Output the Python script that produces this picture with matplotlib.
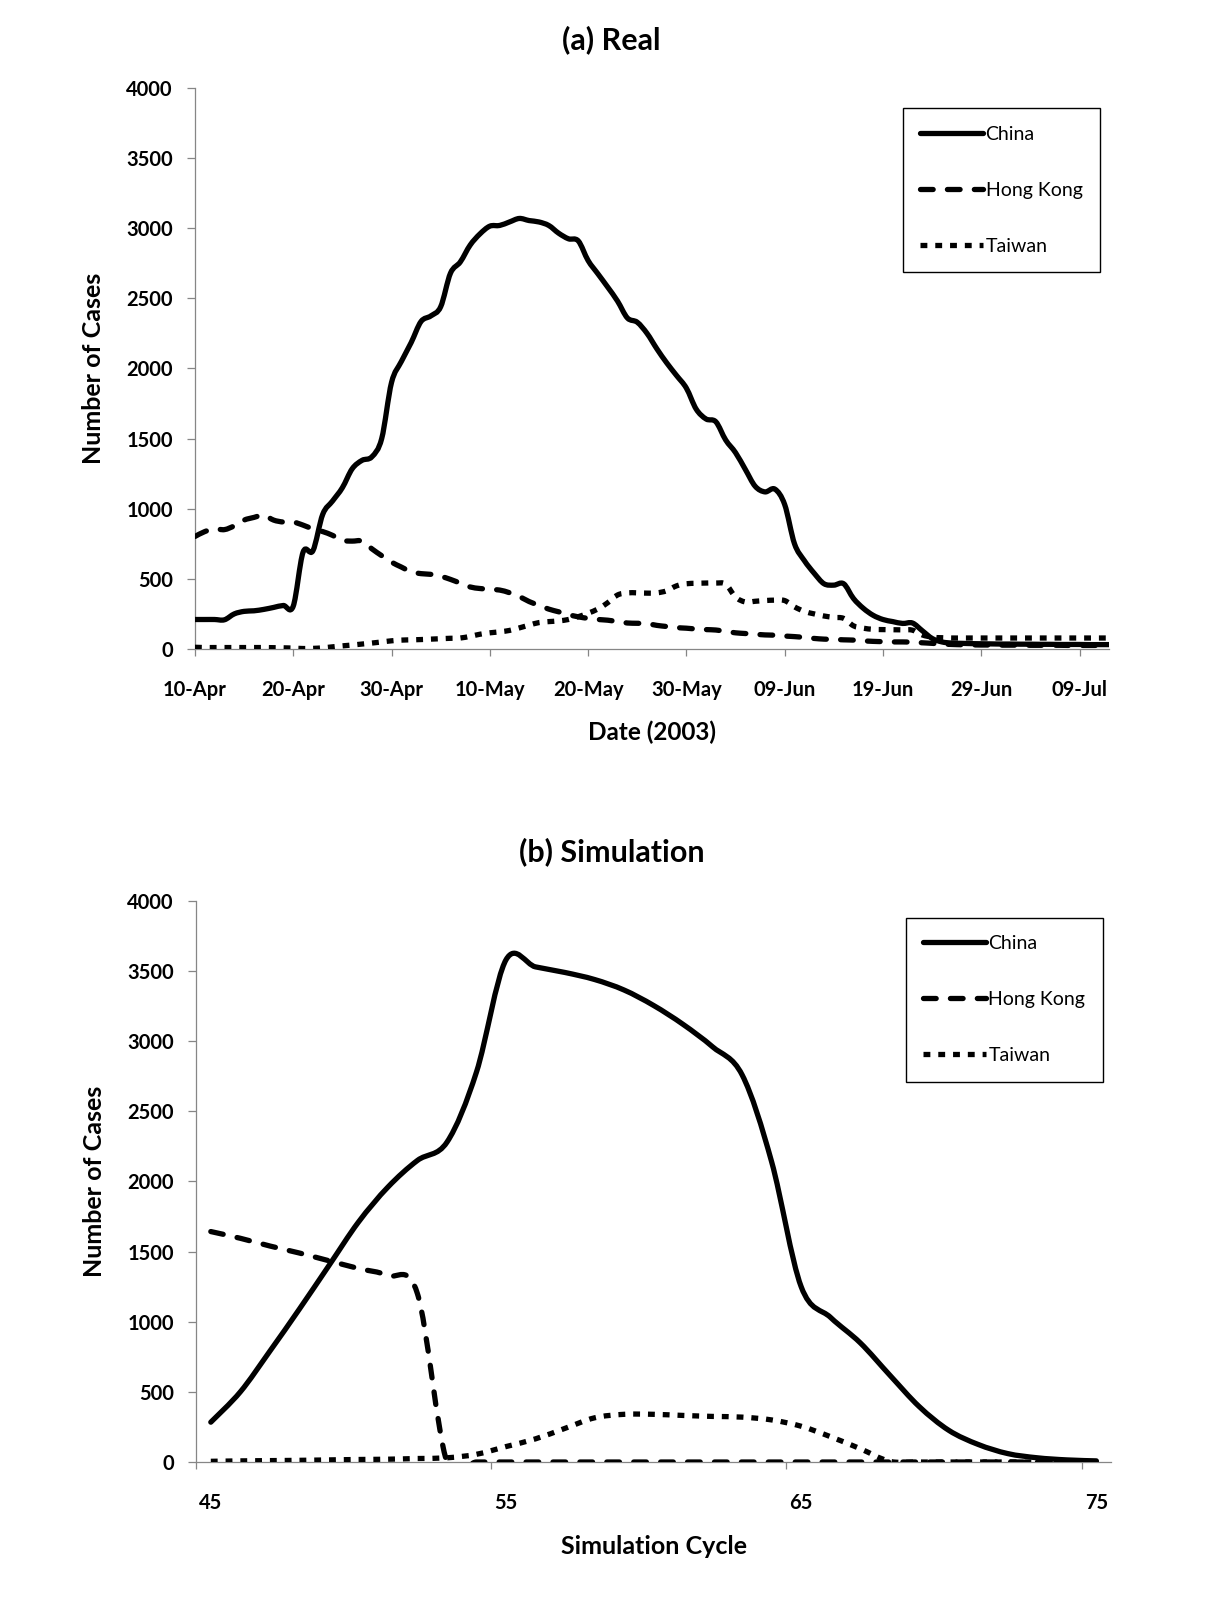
import numpy as np
import matplotlib
matplotlib.use('Agg')
import matplotlib.pyplot as plt
from matplotlib.path import Path
from matplotlib.patches import PathPatch
from matplotlib.lines import Line2D

plt.rcParams['font.family'] = ['Lato', 'DejaVu Sans']

# ---------------------------------------------------------
# data
# ---------------------------------------------------------
# (a) real cases, one value per day from 10-Apr-2003
china_real = [210, 210, 210, 208, 250, 268, 272, 282, 296, 310,
              305, 690, 700, 960, 1055, 1150, 1285, 1345, 1370, 1500,
              1900, 2050, 2185, 2335, 2375, 2440, 2680, 2760, 2880, 2960,
              3015, 3020, 3045, 3070, 3055, 3045, 3020, 2965, 2925, 2910,
              2770, 2675, 2580, 2480, 2360, 2330, 2250, 2140, 2040, 1950,
              1860, 1710, 1640, 1620, 1490, 1400, 1280, 1160, 1120, 1140,
              1030, 750, 630, 540, 465, 455, 465, 360, 290, 240,
              210, 195, 182, 185, 130, 75, 50, 42, 40, 38,
              37, 36, 35, 35, 34, 34, 33, 33, 32, 32,
              32, 31, 31, 31]
hk_real = [802, 837, 856, 851, 878, 919, 938, 954, 919, 905,
           905, 883, 856, 837, 810, 774, 769, 769, 714, 665,
           619, 584, 551, 537, 532, 518, 496, 469, 442, 431,
           425, 420, 401, 374, 338, 311, 284, 265, 245, 229,
           218, 210, 205, 195, 185, 183, 180, 168, 160, 152,
           148, 142, 138, 135, 125, 115, 110, 105, 100, 98,
           92, 88, 82, 75, 70, 68, 65, 63, 58, 54,
           52, 50, 50, 48, 44, 40, 35, 32, 30, 29,
           28, 28, 27, 27, 27, 26, 26, 26, 26, 25,
           25, 25, 25, 25]
taiwan_real = [12, 10, 10, 10, 10, 10, 10, 10, 9, 8,
               6, 3, 4, 8, 15, 22, 28, 35, 42, 50,
               58, 63, 65, 67, 70, 73, 76, 78, 90, 105,
               115, 122, 132, 150, 170, 188, 195, 200, 210, 230,
               255, 285, 330, 385, 400, 400, 398, 400, 415, 450,
               465, 468, 470, 470, 462, 370, 335, 340, 345, 348,
               345, 300, 268, 250, 235, 225, 218, 165, 148, 140,
               138, 137, 136, 134, 100, 84, 80, 78, 78, 78,
               78, 78, 78, 78, 78, 78, 78, 78, 78, 78,
               78, 78, 78, 78]
date_labels = ['10-Apr', '20-Apr', '30-Apr', '10-May', '20-May',
               '30-May', '09-Jun', '19-Jun', '29-Jun', '09-Jul']

# (b) simulation, cycles 45..75
cycles = list(range(45, 76))
china_sim = [284, 500, 790, 1090, 1400, 1710, 1960, 2150, 2280, 2780,
             3580, 3530, 3490, 3440, 3365, 3255, 3120, 2960, 2760, 2140,
             1250, 1030, 850, 620, 395, 226, 125, 60, 30, 15, 8]
hk_sim = [1643, 1595, 1540, 1490, 1435, 1380, 1330, 1200, 0, 0,
          0, 0, 0, 0, 0, 0, 0, 0, 0, 0,
          0, 0, 0, 0, 0, 0, 0, 0, 0, 0, 0]
taiwan_sim = [5, 8, 10, 12, 15, 18, 20, 25, 30, 55,
              110, 165, 240, 315, 340, 340, 332, 325, 320, 300,
              255, 180, 95, 5, 0, 0, 0, 0, 0, 0, 0]
cycle_labels = ['45', '55', '65', '75']

series_names = ['China', 'Hong Kong', 'Taiwan']

# ---------------------------------------------------------
# styling
# ---------------------------------------------------------
LW = 3.8
GRAY = '#868686'
styles = {
    'China':     dict(linestyle='-', capstyle='round'),
    'Hong Kong': dict(linestyle=(0, (2.4, 2.7)), capstyle='round'),
    'Taiwan':    dict(linestyle=(0, (1.3, 1.5)), capstyle='butt'),
}


def smooth_path(xs, ys):
    """Bezier path through the points (Excel-like smoothed line)."""
    n = len(xs)
    verts = [(xs[0], ys[0])]
    codes = [Path.MOVETO]
    for i in range(n - 1):
        x0, y0 = (xs[i - 1], ys[i - 1]) if i > 0 else (xs[i], ys[i])
        x3, y3 = (xs[i + 2], ys[i + 2]) if i + 2 < n else (xs[i + 1], ys[i + 1])
        c1 = (xs[i] + (xs[i + 1] - x0) / 6, ys[i] + (ys[i + 1] - y0) / 6)
        c2 = (xs[i + 1] - (x3 - xs[i]) / 6, ys[i + 1] - (y3 - ys[i]) / 6)
        verts += [c1, c2, (xs[i + 1], ys[i + 1])]
        codes += [Path.CURVE4] * 3
    return Path(verts, codes)


def add_curve(ax, xs, ys, name):
    st = styles[name]
    patch = PathPatch(smooth_path(xs, ys), fill=False, edgecolor='black',
                      lw=LW, linestyle=st['linestyle'], capstyle=st['capstyle'],
                      joinstyle='round', zorder=3)
    ax.add_patch(patch)


def legend_handles():
    hs = []
    for name in series_names:
        st = styles[name]
        hs.append(Line2D([], [], color='black', lw=LW, linestyle=st['linestyle'],
                         solid_capstyle=st['capstyle'], dash_capstyle=st['capstyle']))
    return hs


def style_axes(ax, leg_anchor):
    for s in ['top', 'right']:
        ax.spines[s].set_visible(False)
    for s in ['left', 'bottom']:
        ax.spines[s].set_color(GRAY)
        ax.spines[s].set_linewidth(0.9)
    ax.set_ylim(0, 4000)
    ax.set_yticks(range(0, 4001, 500))
    ax.tick_params(axis='y', length=6, width=0.9, color=GRAY, pad=10, labelsize=14.5)
    ax.tick_params(axis='x', which='major', length=5, width=0.9, color=GRAY, pad=17, labelsize=14.5)
    ax.tick_params(axis='x', which='minor', length=0, pad=22, labelsize=14.5)
    for lbl in ax.get_yticklabels() + ax.get_xticklabels(which='both'):
        lbl.set_fontweight('bold')
    ax.text(-0.111, 0.5, 'Number of Cases', transform=ax.transAxes, rotation=90,
            ha='center', va='center', fontsize=18, fontweight='bold')
    ax.legend(legend_handles(), series_names, loc='upper right', fontsize=14,
              frameon=True, fancybox=False, edgecolor='black', framealpha=1,
              borderpad=0.9, labelspacing=2.0, handlelength=3.2, handletextpad=0.15,
              borderaxespad=0, bbox_to_anchor=leg_anchor)
    ax.get_legend().get_frame().set_linewidth(1.0)


fig = plt.figure(figsize=(12.23, 15.98), dpi=100)

# ---------------------------------------------------------
# (a) Real
# ---------------------------------------------------------
ax1 = fig.add_axes([0.1594, 0.5939, 0.7474, 0.3510])
days = list(range(len(china_real)))
add_curve(ax1, days, china_real, 'China')
add_curve(ax1, days, hk_real, 'Hong Kong')
add_curve(ax1, days, taiwan_real, 'Taiwan')
ax1.set_xlim(0, 93)
ax1.set_xticks(range(0, 91, 10))
ax1.set_xticklabels(date_labels)
style_axes(ax1, (0.990, 0.964))
ax1.text(0.5, -0.148, 'Date (2003)', transform=ax1.transAxes, ha='center', va='center',
         fontsize=17.5, fontweight='bold')
fig.text(0.5, 1 - 40 / 1598, '(a) Real', ha='center', va='center', fontsize=22, fontweight='bold')

# ---------------------------------------------------------
# (b) Simulation
# ---------------------------------------------------------
ax2 = fig.add_axes([0.1603, 0.0851, 0.7482, 0.3511])
add_curve(ax2, cycles, china_sim, 'China')
add_curve(ax2, cycles, hk_sim, 'Hong Kong')
add_curve(ax2, cycles, taiwan_sim, 'Taiwan')
ax2.set_xlim(44.5, 75.5)
ax2.set_xticks([44.5, 54.5, 64.5, 74.5])
ax2.set_xticklabels([])
ax2.set_xticks([45, 55, 65, 75], minor=True)
ax2.set_xticklabels(cycle_labels, minor=True)
style_axes(ax2, (0.991, 0.970))
ax2.text(0.5, -0.15, 'Simulation Cycle', transform=ax2.transAxes, ha='center', va='center',
         fontsize=18, fontweight='bold')
fig.text(0.5, 1 - 852 / 1598, '(b) Simulation', ha='center', va='center', fontsize=22, fontweight='bold')

fig.savefig('out.png', dpi=100)
